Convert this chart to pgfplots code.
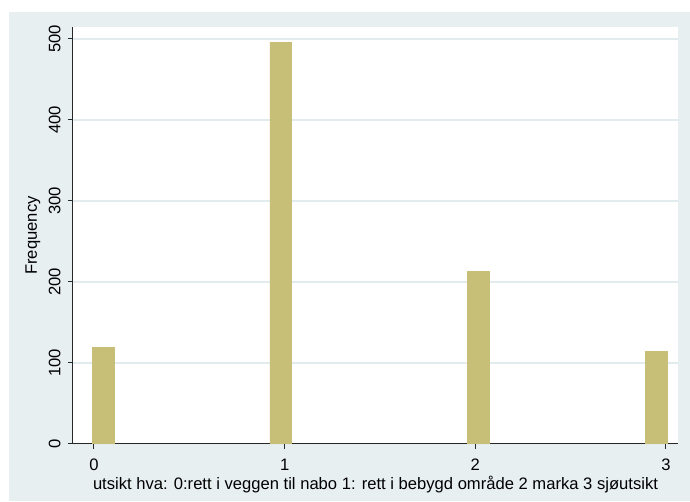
\documentclass[border=0pt]{standalone}
\usepackage{fontspec}
\setmainfont{Liberation Sans}
\usepackage{pgfplots}
\pgfplotsset{compat=1.18}

\definecolor{regionbg}{RGB}{232,239,241}
\definecolor{gridcol}{RGB}{226,235,238}
\definecolor{barcol}{RGB}{199,190,120}
\definecolor{axiscol}{RGB}{40,40,40}

\begin{document}
\begin{tikzpicture}
  % page and graph region
  \path[use as bounding box, fill=white] (-36.5pt,-29pt) rectangle (308.5pt,222pt);
  \fill[regionbg] (-32pt,-28.5pt) rectangle (308.5pt,216pt);
  \begin{axis}[
    at={(0pt,0pt)}, anchor=south west,
    scale only axis,
    width=302.5pt, height=208.5pt,
    xmin=-0.11, xmax=3.063,
    ymin=0, ymax=514.8,
    axis lines=left,
    axis line style={-, draw=axiscol, line width=0.5pt},
    axis background/.style={fill=white},
    xtick={0,1,2,3},
    ytick={0,100,200,300,400,500},
    tick align=outside,
    major tick length=2.5pt,
    tick style={draw=axiscol, line width=0.5pt},
    ymajorgrids,
    major grid style={draw=gridcol, line width=0.6pt},
    /pgf/number format/assume math mode=true,
    tick label style={font=\fontsize{8.3}{9}\selectfont, text=black},
    xticklabel style={anchor=north, inner sep=0pt, yshift=-5pt},
    yticklabel style={rotate=90, anchor=south, inner sep=0pt, yshift=3.5pt},
    label style={font=\fontsize{8.3}{9}\selectfont},
    xlabel={utsikt hva: 0:rett i veggen til nabo 1: rett i bebygd område 2 marka 3 sjøutsikt},
    xlabel style={at={(axis description cs:0.5,0)}, anchor=center, yshift=-20.5pt},
    ylabel={Frequency},
    ylabel style={at={(axis description cs:0,0.5)}, anchor=center, yshift=20pt},
  ]
    \addplot[ybar, bar width=0.115, fill=barcol, draw=barcol, line width=0.3pt]
      coordinates {(0.05,119) (0.98,496) (2.015,213) (2.95,114)};
  \end{axis}
\end{tikzpicture}
\end{document}
